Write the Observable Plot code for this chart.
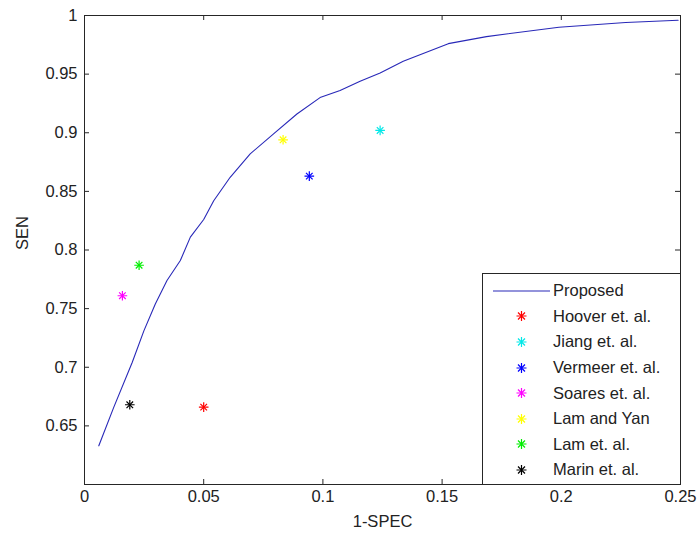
<!DOCTYPE html>
<html>
<head>
<meta charset="utf-8">
<script src="https://cdn.jsdelivr.net/npm/d3@7"></script>
<script src="https://cdn.jsdelivr.net/npm/@observablehq/plot@0.6"></script>
<style>
  html, body { margin: 0; padding: 0; background: #fff; }
  #wrap { position: relative; width: 698px; height: 535px; font-family: "Liberation Sans", Arial, sans-serif; }
  #legend { position: absolute; left: 482px; top: 273px; width: 199px; height: 212px; box-sizing: border-box;
    border: 1px solid #262626; background: #fff; padding-top: 4px; }
  .row { display: flex; align-items: center; height: 25.6px; font-size: 16.5px; color: #222; }
  .row svg { margin-left: 10px; margin-right: 3px; flex: none; }
</style>
</head>
<body>
<div id="wrap"><div id="legend"></div></div>
<script>
// ROC curve of the proposed method
const curveFPR = [0.006, 0.0123, 0.020, 0.0249, 0.0297, 0.0346, 0.0402, 0.0444, 0.050, 0.0542, 0.0611, 0.0695, 0.0793, 0.0891, 0.0988, 0.1072, 0.1156, 0.124, 0.1337, 0.1526, 0.1686, 0.199, 0.227, 0.249];
const curveSEN = [0.633, 0.666, 0.704, 0.731, 0.754, 0.774, 0.791, 0.811, 0.826, 0.842, 0.862, 0.882, 0.899, 0.916, 0.930, 0.936, 0.944, 0.951, 0.961, 0.976, 0.982, 0.990, 0.994, 0.996];

// Other methods
const methods = ["Hoover et. al.", "Jiang et. al.", "Vermeer et. al.", "Soares et. al.", "Lam and Yan", "Lam et. al.", "Marin et. al."];
const methodFPR = [0.050, 0.124, 0.0943, 0.0159, 0.0833, 0.0229, 0.019];
const methodSEN = [0.666, 0.902, 0.863, 0.761, 0.894, 0.787, 0.668];
const methodColors = ["#ff0000", "#00e8e8", "#0000ff", "#ff00ff", "#ffff00", "#00ee00", "#000000"];
const lineColor = "#2828b8";

const xTicks = [0, 0.05, 0.1, 0.15, 0.2, 0.25];
const yTicks = [0.65, 0.7, 0.75, 0.8, 0.85, 0.9, 0.95, 1];
const xLabel = "1-SPEC";
const yLabel = "SEN";
const curveName = "Proposed";

const curve = curveFPR.map((x, i) => ({x, y: curveSEN[i]}));
const pts = methods.map((m, i) => ({name: m, x: methodFPR[i], y: methodSEN[i], color: methodColors[i]}));
const fmt = d => String(d);

const W = 698, H = 535, mL = 84, mR = 18, mT = 15, mB = 51;
const innerW = W - mL - mR, innerH = H - mT - mB, tick = 5;

const chart = Plot.plot({
  width: W, height: H,
  marginLeft: mL, marginRight: mR, marginTop: mT, marginBottom: mB,
  x: {domain: [0, 0.25]},
  y: {domain: [0.6, 1]},
  style: {fontFamily: "'Liberation Sans', Arial, sans-serif", fontSize: "16.5px", color: "#222", background: "#fff"},
  marks: [
    Plot.axisX(xTicks, {anchor: "bottom", tickSize: 0, tickPadding: 6, tickFormat: fmt, label: null, fontSize: 16.5}),
    Plot.axisY(yTicks, {anchor: "left", tickSize: 0, tickPadding: 7, tickFormat: fmt, label: null, fontSize: 16.5}),
    // inward ticks on all four sides
    Plot.tickX(xTicks, {x: d => d, insetTop: innerH - tick, stroke: "#262626"}),
    Plot.tickX(xTicks, {x: d => d, insetBottom: innerH - tick, stroke: "#262626"}),
    Plot.tickY(yTicks, {y: d => d, insetRight: innerW - tick, stroke: "#262626"}),
    Plot.tickY(yTicks, {y: d => d, insetLeft: innerW - tick, stroke: "#262626"}),
    Plot.frame({stroke: "#262626"}),
    Plot.text([xLabel], {text: d => d, frameAnchor: "bottom", dy: 37, lineAnchor: "middle", fontSize: 16.5, fill: "#222"}),
    Plot.text([yLabel], {text: d => d, frameAnchor: "left", dx: -62, rotate: -90, lineAnchor: "middle", fontSize: 16.5, fill: "#222"}),
    Plot.line(curve, {x: "x", y: "y", stroke: lineColor, strokeWidth: 1.1}),
    Plot.dot(pts, {x: "x", y: "y", symbol: "plus", r: 3.2, stroke: "color", strokeWidth: 1.2}),
    Plot.dot(pts, {x: "x", y: "y", symbol: "times", r: 3.1, stroke: "color", strokeWidth: 1.2})
  ]
});
document.getElementById("wrap").prepend(chart);

// Legend (inside the axes, bottom-right)
const legend = document.getElementById("legend");
const star = c => `<g stroke="${c}" stroke-width="1.2"><path d="M23.5,10H33.5M28.5,5V15"/><path d="M25,6.5L32,13.5M25,13.5L32,6.5"/></g>`;
const rows = [{name: curveName, icon: `<line x1="0" y1="10" x2="57" y2="10" stroke="${lineColor}" stroke-width="1.1"/>`}]
  .concat(pts.map(p => ({name: p.name, icon: star(p.color)})));
for (const r of rows) {
  const div = document.createElement("div");
  div.className = "row";
  div.innerHTML = `<svg width="57" height="20">${r.icon}</svg><span>${r.name}</span>`;
  legend.appendChild(div);
}
</script>
</body>
</html>
